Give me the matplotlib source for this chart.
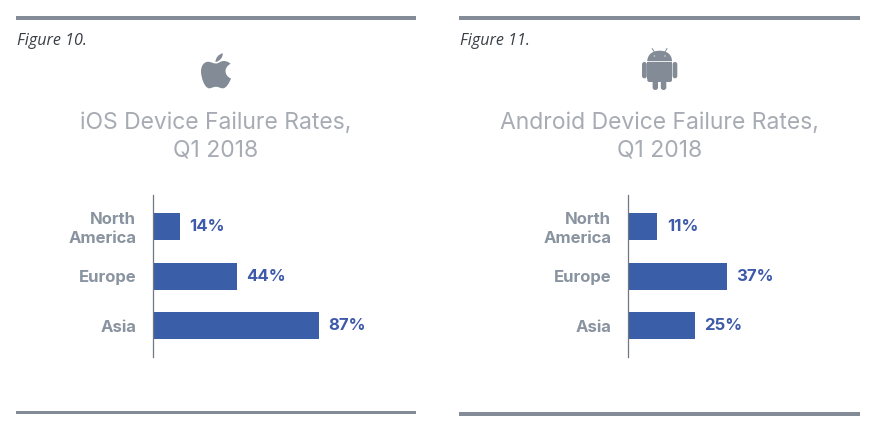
import matplotlib
matplotlib.use('Agg')
import matplotlib.pyplot as plt
from matplotlib.patches import PathPatch, Rectangle, FancyBboxPatch, Circle
from matplotlib.path import Path
from matplotlib.transforms import ScaledTranslation

# data
regions = ['North\nAmerica', 'Europe', 'Asia']
ios_rates = [14, 44, 87]
android_rates = [11, 37, 25]
ios_title = 'iOS Device Failure Rates,\nQ1 2018'
android_title = 'Android Device Failure Rates,\nQ1 2018'

W, H = 886, 425
GREY = '#838c96'
TITLE_GREY = '#a7abb3'
LABEL_GREY = '#8a94a0'
BLUE = '#3a5ea8'
VALUE_BLUE = '#3f5aa9'
plt.rcParams['font.family'] = ['Inter', 'DejaVu Sans']

fig = plt.figure(figsize=(W / 100, H / 100), dpi=100, facecolor='white')

# overlay in pixel coords for rules, titles and icons
bg = fig.add_axes([0, 0, 1, 1])
bg.set_xlim(0, W)
bg.set_ylim(H, 0)
bg.axis('off')


def rule(x0, x1, y0, y1):
    bg.add_patch(Rectangle((x0, y0), x1 - x0, y1 - y0, fc=GREY, ec='none'))


def draw_bars(x0, px_per_pct, rates):
    # axes box runs from the axis line to the right panel edge
    y0, y1 = 195, 356.5
    width = 240
    ax = fig.add_axes([x0 / W, 1 - y1 / H, width / W, (y1 - y0) / H])
    ax.patch.set_alpha(0)
    ax.barh(range(len(rates)), rates, height=0.545, color=BLUE)
    ax.set_xlim(0, width / px_per_pct)
    ax.set_ylim(2.62, -0.636)
    ax.set_yticks(range(len(regions)))
    ax.set_yticklabels(regions, fontsize=12, fontweight='bold', color=LABEL_GREY,
                       linespacing=1.33, ha='right')
    ax.tick_params(axis='y', length=0, pad=12)
    ax.set_xticks([])
    for s in ['top', 'right', 'bottom']:
        ax.spines[s].set_visible(False)
    ax.spines['left'].set_color('#6f7780')
    ax.spines['left'].set_linewidth(0.9)
    # two line label sits a little higher than the bar centre
    first = ax.get_yticklabels()[0]
    first.set_transform(first.get_transform() + ScaledTranslation(0, 1.5 / 100, fig.dpi_scale_trans))
    for i, r in enumerate(rates):
        ax.annotate(f'{r}%', (r, i), xytext=(6.9, 0), textcoords='offset points',
                    ha='left', va='center', fontsize=12, fontweight='bold',
                    color=VALUE_BLUE)
    return ax


def apple_icon():
    body = [(216, 63.5),
            (213, 63.5), (210.5, 61.5), (207.5, 61.8),
            (203.5, 62.2), (201, 66), (201, 71.5),
            (201, 77.5), (204.5, 88), (209, 88.3),
            (211.5, 88.4), (213, 86.8), (216, 86.8),
            (219, 86.8), (220, 88.4), (223, 88.3),
            (226.5, 88.2), (229.5, 82.5), (231, 78.5),
            (227, 77), (225.5, 73.5), (225.5, 71),
            (225.5, 68), (227.5, 65.5), (230.5, 63.8),
            (228.5, 61.5), (225.5, 61), (223.5, 61),
            (220.5, 61), (218.5, 63.5), (216, 63.5)]
    codes = [Path.MOVETO] + [Path.CURVE4] * (len(body) - 1)
    bg.add_patch(PathPatch(Path(body, codes), fc=GREY, ec='none'))
    leaf = [(215.5, 62), (215.5, 57.5), (219, 54), (222.8, 53.3),
            (223, 57.5), (219.5, 61.5), (215.5, 62)]
    codes = [Path.MOVETO] + [Path.CURVE4] * 6
    bg.add_patch(PathPatch(Path(leaf, codes), fc=GREY, ec='none'))


def rounded(x0, y0, x1, y1, r):
    bg.add_patch(FancyBboxPatch((x0 + r, y0 + r), x1 - x0 - 2 * r, y1 - y0 - 2 * r,
                                boxstyle=f'round,pad={r},rounding_size={r}',
                                fc=GREY, ec='none'))


def android_icon():
    # head, a half ellipse built from two curves
    head = [(647.3, 61.2), (647.3, 55), (652, 50.7), (659.7, 50.7),
            (667.4, 50.7), (672, 55), (672, 61.2), (647.3, 61.2)]
    codes = [Path.MOVETO] + [Path.CURVE4] * 6 + [Path.CLOSEPOLY]
    bg.add_patch(PathPatch(Path(head, codes), fc=GREY, ec='none'))
    bg.plot([652.2, 655], [48.6, 53], color=GREY, lw=0.7)
    bg.plot([667, 664.3], [48.6, 53], color=GREY, lw=0.7)
    bg.add_patch(Circle((654.4, 56), 0.6, fc='white', ec='none'))
    bg.add_patch(Circle((665, 56), 0.6, fc='white', ec='none'))
    # body
    bg.add_patch(Rectangle((647.3, 62.3), 24.7, 17, fc=GREY, ec='none'))
    rounded(647.3, 70, 672, 82, 2)
    # arms and legs
    rounded(642, 62, 646.8, 78.3, 2.3)
    rounded(672.6, 62, 677.3, 78.3, 2.3)
    rounded(652.6, 78, 658, 90, 2.6)
    rounded(660.8, 78, 666.3, 90, 2.6)


# rules
rule(16, 416, 16, 20)
rule(16, 416, 411, 414)
rule(459, 860, 16, 20)
rule(459, 860, 412, 416)

# captions
bg.text(17, 45, 'Figure 10.', fontsize=11.6, style='italic', color='#3a3f46',
        family=['Open Sans', 'DejaVu Sans'], ha='left', va='baseline')
bg.text(460, 45, 'Figure 11.', fontsize=11.6, style='italic', color='#3a3f46',
        family=['Open Sans', 'DejaVu Sans'], ha='left', va='baseline')

# titles
bg.text(216, 137, ios_title, fontsize=16.5, color=TITLE_GREY, ha='center',
        va='center', linespacing=1.31)
bg.text(659.5, 137, android_title, fontsize=16.5, color=TITLE_GREY, ha='center',
        va='center', linespacing=1.31)

apple_icon()
android_icon()

draw_bars(153, 166 / 87, ios_rates)
draw_bars(628, 99 / 37, android_rates)

fig.savefig('out.png', dpi=100, facecolor='white')
